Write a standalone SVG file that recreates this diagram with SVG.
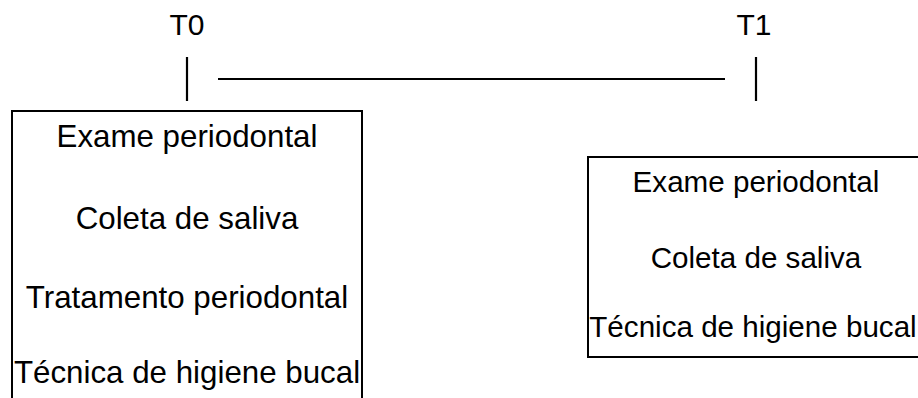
<svg xmlns="http://www.w3.org/2000/svg" width="918" height="398" viewBox="0 0 918 398">
  <style>
    .box { fill: none; stroke: #000; stroke-width: 2; }
    .line { stroke: #000; stroke-width: 2.2; fill: none; }
    .txt { font-family: "Liberation Sans", Arial, Helvetica, sans-serif; fill: #000; text-anchor: middle; }
    .lbl { font-size: 30px; }
    .t0 { font-size: 31.3px; }
    .t1 { font-size: 29.6px; }
  </style>
  <rect width="918" height="398" fill="#fff"/>

  <!-- timeline connectors -->
  <g id="connectors">
    <line class="line" x1="187" y1="57" x2="187" y2="101"/>
    <line class="line" x1="218" y1="79" x2="725" y2="79"/>
    <line class="line" x1="756" y1="57" x2="756" y2="101"/>
  </g>

  <g id="label-t0">
    <text class="txt lbl" x="187" y="35">T0</text>
  </g>
  <g id="label-t1">
    <text class="txt lbl" x="754" y="35">T1</text>
  </g>

  <!-- activities at T0 -->
  <g id="box-t0">
    <rect class="box" x="12" y="111" width="350" height="300"/>
    <text class="txt t0" x="187" y="147">Exame periodontal</text>
    <text class="txt t0" x="187" y="229">Coleta de saliva</text>
    <text class="txt t0" x="187" y="308">Tratamento periodontal</text>
    <text class="txt t0" x="187" y="383">Técnica de higiene bucal</text>
  </g>

  <!-- activities at T1 -->
  <g id="box-t1">
    <rect class="box" x="588" y="157" width="345" height="200"/>
    <text class="txt t1" x="756" y="192">Exame periodontal</text>
    <text class="txt t1" x="756" y="268">Coleta de saliva</text>
    <text class="txt t1" x="753" y="337">Técnica de higiene bucal</text>
  </g>
</svg>
